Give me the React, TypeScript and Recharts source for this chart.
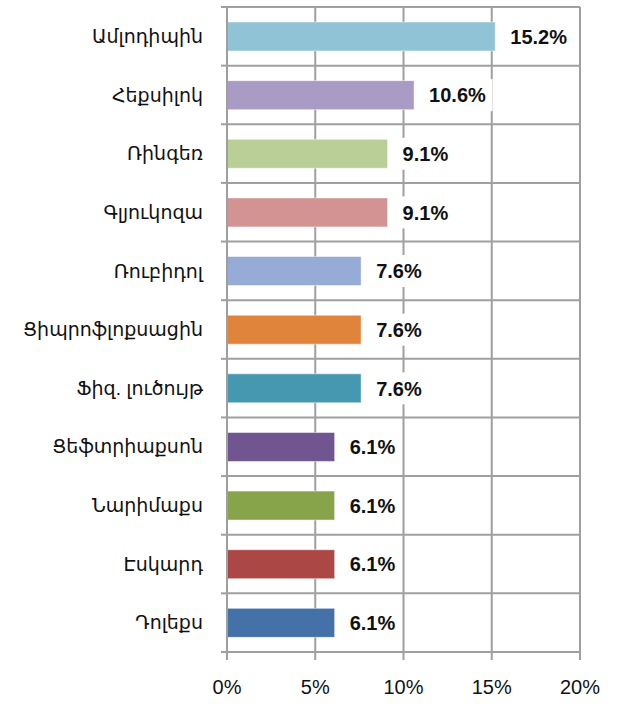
import React from "react";
import { BarChart, Bar, XAxis, YAxis, CartesianGrid, Cell, LabelList } from "recharts";

const categories = [
  "Ամլոդիպին",
  "Հեքսիլոկ",
  "Ռինգեռ",
  "Գլյուկոզա",
  "Ռուբիդոլ",
  "Ցիպրոֆլոքսացին",
  "Ֆիզ. լուծույթ",
  "Ցեֆտրիաքսոն",
  "Նարիմաքս",
  "Էսկարդ",
  "Դոլեքս",
];
const values = [15.2, 10.6, 9.1, 9.1, 7.6, 7.6, 7.6, 6.1, 6.1, 6.1, 6.1];
const xTicks = [0, 5, 10, 15, 20];

const palette = [
  "#8FC3D5",
  "#A99BC4",
  "#BACF98",
  "#D49393",
  "#96ABD5",
  "#E0843B",
  "#4598B0",
  "#705591",
  "#87A44B",
  "#AB4745",
  "#4472A8",
];

const data = categories.map((c, i) => ({ name: c, value: values[i] }));

const W = 622;
const H = 710;
const PLOT_TOP = 7;
const PLOT_BOTTOM = 652;
const HALF_BAND = (PLOT_BOTTOM - PLOT_TOP) / categories.length / 2;
const FONT = "Arial, 'Liberation Sans', 'DejaVu Sans', sans-serif";
const GRID = "#9f9f9f";

const CategoryTick = (props: any) => {
  const { x, y, payload, index } = props;
  const axisX = x + 24;
  return (
    <g>
      <line x1={axisX - 6} x2={axisX} y1={y - HALF_BAND} y2={y - HALF_BAND} stroke={GRID} strokeWidth={2} />
      {index === categories.length - 1 && (
        <line x1={axisX - 6} x2={axisX} y1={y + HALF_BAND} y2={y + HALF_BAND} stroke={GRID} strokeWidth={2} />
      )}
      <text x={x} y={y} dy="0.35em" textAnchor="end" fontSize={19} fill="#111" fontFamily={FONT}>
        {payload.value}
      </text>
    </g>
  );
};

const ValueLabel = (props: any) => {
  const { x, y, width, height, value } = props;
  const label = `${value}%`;
  const endX = x + width;
  const cy = y + height / 2;
  const textW = label.length * 11.9;
  return (
    <g>
      <rect x={endX + 5} y={cy - 16} width={textW + 14} height={32} fill="#fff" />
      <text x={endX + 15} y={cy} dy="0.36em" textAnchor="start" fontSize={20} fontWeight="bold" fill="#111" fontFamily={FONT}>
        {label}
      </text>
    </g>
  );
};

export default function App() {
  return (
    <div style={{ position: "absolute", left: 0, top: 0, width: W, height: H, background: "#fff" }}>
      <BarChart
        width={W}
        height={H}
        data={data}
        layout="vertical"
        margin={{ top: PLOT_TOP, right: 42, bottom: 0, left: 0 }}
        barCategoryGap="50%"
      >
        <CartesianGrid
          stroke={GRID}
          strokeWidth={2}
          horizontalCoordinatesGenerator={({ offset }: any) =>
            Array.from({ length: categories.length + 1 }, (_, i) => offset.top + (i * offset.height) / categories.length)
          }
        />
        <XAxis
          type="number"
          domain={[0, 20]}
          ticks={xTicks}
          tickFormatter={(v: number) => `${v}%`}
          height={H - PLOT_BOTTOM - 0}
          axisLine={{ stroke: GRID, strokeWidth: 2 }}
          tickLine={{ stroke: GRID, strokeWidth: 2 }}
          tickSize={8}
          tickMargin={20}
          tick={{ fontSize: 20, fill: "#111", fontFamily: FONT }}
          interval={0}
        />
        <YAxis
          type="category"
          dataKey="name"
          width={227}
          axisLine={{ stroke: GRID, strokeWidth: 2 }}
          tickLine={false}
          tickSize={6}
          tickMargin={18}
          tick={<CategoryTick />}
          interval={0}
        />
        <Bar dataKey="value" isAnimationActive={false} barSize={29} stroke="rgba(255,255,255,0.5)" strokeWidth={1}>
          {data.map((d, i) => (
            <Cell key={d.name} fill={palette[i]} />
          ))}
          <LabelList dataKey="value" content={<ValueLabel />} />
        </Bar>
      </BarChart>
    </div>
  );
}
